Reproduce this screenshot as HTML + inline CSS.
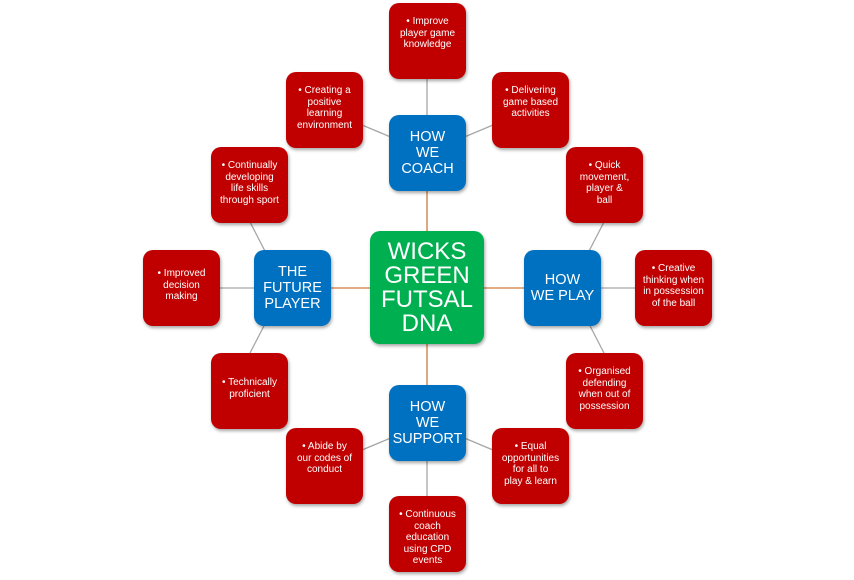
<!DOCTYPE html>
<html><head><meta charset="utf-8"><style>
body{margin:0;width:854px;height:580px;background:#fff;position:relative;overflow:hidden;font-family:"Liberation Sans",sans-serif}
.b{position:absolute;border-radius:10px;color:#fff;text-align:center;box-shadow:1px 2px 3px rgba(0,0,0,.35);box-sizing:border-box}
.r{background:#c00000;width:77px;height:76px;font-size:10px;line-height:11.5px;padding:13px 7px 0}
.u{background:#0070c0;width:77px;height:76px;font-size:14.5px;line-height:16px;display:flex;align-items:center;justify-content:center}
.g{background:#00b050;left:370px;top:231px;width:114px;height:113px;font-size:24px;line-height:24px;display:flex;align-items:center;justify-content:center}
svg{position:absolute;left:0;top:0}
</style></head><body>
<svg width="854" height="580">
<g stroke="#a6a6a6" stroke-width="1.3">
<line x1="427" y1="78" x2="427" y2="115"/>
<line x1="393" y1="138" x2="362" y2="125"/>
<line x1="462" y1="138" x2="493" y2="125"/>
<line x1="587" y1="255" x2="604" y2="222"/>
<line x1="600" y1="288" x2="635" y2="288"/>
<line x1="587" y1="320" x2="604" y2="353"/>
<line x1="462" y1="437" x2="493" y2="450"/>
<line x1="427" y1="460" x2="427" y2="496"/>
<line x1="393" y1="437" x2="362" y2="450"/>
<line x1="267" y1="255" x2="250" y2="222"/>
<line x1="219" y1="288" x2="254" y2="288"/>
<line x1="267" y1="320" x2="250" y2="353"/>
</g>
<g stroke="#d07a3a" stroke-width="1.3">
<line x1="427" y1="190" x2="427" y2="231"/>
<line x1="427" y1="344" x2="427" y2="385"/>
<line x1="330" y1="288" x2="370" y2="288"/>
<line x1="484" y1="288" x2="524" y2="288"/>
</g>
</svg>
<div class="b g">WICKS<br>GREEN<br>FUTSAL<br>DNA</div>
<div class="b u" style="left:389px;top:115px">HOW<br>WE<br>COACH</div>
<div class="b u" style="left:524px;top:250px">HOW<br>WE PLAY</div>
<div class="b u" style="left:389px;top:385px">HOW<br>WE<br>SUPPORT</div>
<div class="b u" style="left:254px;top:250px">THE<br>FUTURE<br>PLAYER</div>
<div class="b r" style="left:389px;top:3px">• Improve<br>player game<br>knowledge</div>
<div class="b r" style="left:492px;top:72px">• Delivering<br>game based<br>activities</div>
<div class="b r" style="left:566px;top:147px">• Quick<br>movement,<br>player &amp;<br>ball</div>
<div class="b r" style="left:635px;top:250px">• Creative<br>thinking when<br>in possession<br>of the ball</div>
<div class="b r" style="left:566px;top:353px">• Organised<br>defending<br>when out of<br>possession</div>
<div class="b r" style="left:492px;top:428px">• Equal<br>opportunities<br>for all to<br>play &amp; learn</div>
<div class="b r" style="left:389px;top:496px">• Continuous<br>coach<br>education<br>using CPD<br>events</div>
<div class="b r" style="left:286px;top:428px">• Abide by<br>our codes of<br>conduct</div>
<div class="b r" style="left:211px;top:353px;padding-top:24px">• Technically<br>proficient</div>
<div class="b r" style="left:143px;top:250px;padding-top:18px">• Improved<br>decision<br>making</div>
<div class="b r" style="left:211px;top:147px">• Continually<br>developing<br>life skills<br>through sport</div>
<div class="b r" style="left:286px;top:72px">• Creating a<br>positive<br>learning<br>environment</div>
</body></html>
